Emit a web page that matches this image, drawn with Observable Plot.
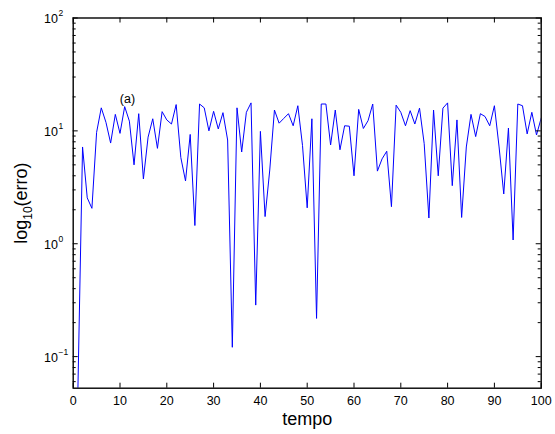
<!DOCTYPE html>
<html>
<head>
<meta charset="utf-8">
<script src="https://cdn.jsdelivr.net/npm/d3@7"></script>
<script src="https://cdn.jsdelivr.net/npm/@observablehq/plot@0.6"></script>
<style>
  html, body { margin: 0; padding: 0; background: white; }
</style>
</head>
<body>
<div id="chart"></div>
<script>
// ---- data ----
const erro = [
  0.05, 7.2, 2.55, 2.06, 9.7, 16, 11.9, 7.8, 14, 9.5,
  16.4, 12.2, 5.0, 14.2, 3.75, 8.8, 12.8, 7.0, 14.8, 12.5,
  11.5, 17.1, 5.8, 3.6, 9.3, 1.45, 17.3, 16, 10, 14.9,
  10.4, 14.5, 8.3, 0.121, 16, 6.5, 14.6, 17.7, 0.286, 9.9,
  1.74, 4.5, 15.3, 11.7, 12.9, 14.2, 11.1, 16.7, 7.4, 2.08,
  12.8, 0.218, 17.3, 17.3, 7.5, 15.3, 6.8, 11.1, 11, 4.0,
  15.5, 10.5, 12.3, 17.3, 4.4, 5.65, 6.6, 2.13, 16.9, 14.6,
  11.1, 15.1, 11.5, 15.9, 7.7, 1.69, 15.3, 4.0, 15.9, 17.7,
  3.27, 12.5, 1.71, 7.2, 14, 8.9, 14.2, 13.4, 11.1, 16.7,
  7.2, 2.76, 10.6, 1.08, 17.3, 16.7, 9.4, 14.6, 9.2, 13
];
const xTicks = [0, 10, 20, 30, 40, 50, 60, 70, 80, 90, 100];
const yMajor = [0.1, 1, 10, 100];
const yExpLabels = ["\u22121", "0", "1", "2"];
const yMinor = [0.06, 0.07, 0.08, 0.09,
  0.2, 0.3, 0.4, 0.5, 0.6, 0.7, 0.8, 0.9,
  2, 3, 4, 5, 6, 7, 8, 9,
  20, 30, 40, 50, 60, 70, 80, 90];
const annotX = [11.6];
const annotY = [19.3];
const annotText = ["(a)"];
const xLabel = "tempo";
const yLabel = "log10(erro)";

// ---- layout ----
const W = 555, H = 434;
const mL = 72.7, mR = 14.3, mT = 17.5, mB = 46.3;
const pw = W - mL - mR, ph = H - mT - mB;

const points = erro.map((v, i) => ({t: i + 1, v}));
const annot = annotText.map((s, i) => ({x: annotX[i], y: annotY[i], s}));

const chart = Plot.plot({
  width: W, height: H,
  marginLeft: mL, marginRight: mR, marginTop: mT, marginBottom: mB,
  x: {domain: [0, 100], axis: null},
  y: {type: "log", domain: [0.0525, 100], axis: null},
  style: {fontFamily: "'Liberation Sans', Arial, Helvetica, sans-serif", background: "white", color: "black"},
  marks: [
    Plot.lineY(points, {x: "t", y: "v", stroke: "#0000ff", strokeWidth: 1, clip: true}),
    // x ticks (bottom & top, inward)
    Plot.tickX(xTicks, {x: d => d, insetTop: ph - 5, stroke: "black"}),
    Plot.tickX(xTicks, {x: d => d, insetBottom: ph - 5, stroke: "black"}),
    // y major ticks (left & right)
    Plot.tickY(yMajor, {y: d => d, insetRight: pw - 5, stroke: "black"}),
    Plot.tickY(yMajor, {y: d => d, insetLeft: pw - 5, stroke: "black"}),
    // y minor ticks
    Plot.tickY(yMinor, {y: d => d, insetRight: pw - 3, stroke: "black"}),
    Plot.tickY(yMinor, {y: d => d, insetLeft: pw - 3, stroke: "black"}),
    Plot.frame({stroke: "black", strokeWidth: 1.4}),
    // x tick labels
    Plot.text(xTicks, {x: d => d, text: d => String(d), frameAnchor: "bottom", lineAnchor: "top", dy: 8, fontSize: 12.5, fill: "black"}),
    // y tick labels: "10" + exponent
    Plot.text(yMajor, {y: d => d, text: () => "10", frameAnchor: "left", textAnchor: "end", lineAnchor: "middle", dx: -15.2, dy: 1, fontSize: 12.5, fill: "black"}),
    Plot.text(yMajor, {y: d => d, text: (d, i) => yExpLabels[i], frameAnchor: "left", textAnchor: "start", lineAnchor: "middle", dx: -14.6, dy: -4.5, fontSize: 8.5, fill: "black"}),
    // annotation
    Plot.text(annot, {x: "x", y: "y", text: "s", fontSize: 12.5, fill: "black", lineAnchor: "middle"}),
    // axis labels
    Plot.text([xLabel], {text: d => d, frameAnchor: "bottom", lineAnchor: "top", dy: 24.5, fontSize: 18, fill: "black"}),
    Plot.text([yLabel], {text: d => d, frameAnchor: "left", rotate: -90, textAnchor: "middle", lineAnchor: "middle", dx: -51.5, fontSize: 18, fill: "black"})
  ]
});

// subscript in y label
d3.select(chart).selectAll("text").each(function() {
  if (this.textContent === yLabel) {
    const el = d3.select(this);
    el.text(null);
    el.append("tspan").text("log");
    el.append("tspan").attr("dy", 5).attr("font-size", 12).text("10");
    el.append("tspan").attr("dy", -5).text("(erro)");
  }
});

document.getElementById("chart").appendChild(chart);
</script>
</body>
</html>
